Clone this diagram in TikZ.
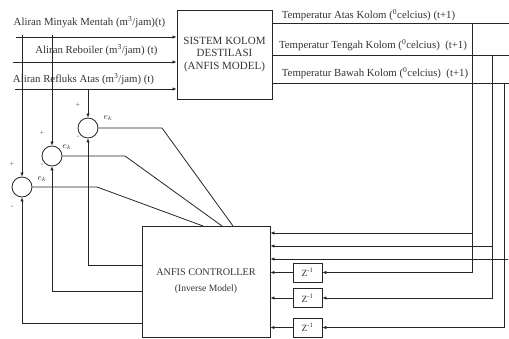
\documentclass[tikz,border=0pt]{standalone}
\usepackage{fontspec}
\setmainfont{Liberation Serif}
\usetikzlibrary{arrows.meta}
\begin{document}
\begin{tikzpicture}[x=1pt,y=-1pt,
 line/.style={line width=0.8pt, draw=black!85},
 arr/.style={line, -{Latex[length=4pt,width=3.5pt]}},
 lbl/.style={font=\fontsize{10.8}{12}\selectfont, inner sep=0pt, text=black!80},
 sgn/.style={font=\fontsize{8}{9}\selectfont, inner sep=0pt, text=black!60},
 ek/.style={font=\fontsize{9}{10}\selectfont, inner sep=0pt, text=black!80},
 sumc/.style={circle, draw=black!85, line width=0.8pt, minimum size=20pt, inner sep=0pt},
 blk/.style={draw=black!85, line width=0.9pt, inner sep=0pt, align=center, text=black!80},
 zbox/.style={draw=black!85, line width=0.8pt, minimum width=29pt, minimum height=19pt, inner sep=0pt, text=black!80, font=\fontsize{9.5}{11}\selectfont}
]
\useasboundingbox (0,0) rectangle (509,339);

% main blocks
\node[blk, minimum width=95pt, minimum height=89pt, font=\fontsize{11}{12.5}\selectfont] (sys) at (224.5,54.5) {SISTEM KOLOM\\DESTILASI\\(ANFIS MODEL)};
\node[blk, minimum width=128pt, minimum height=111pt, font=\fontsize{10.2}{16}\selectfont] (ctrl) at (206,281.5) {ANFIS CONTROLLER\\{\fontsize{9.6}{11}\selectfont(Inverse Model)}};

% summing junctions
\node[sumc] (c1) at (88,128) {};
\node[sumc] (c2) at (52,156) {};
\node[sumc] (c3) at (22,187) {};

% delay blocks
\node[zbox] (z1) at (307.5,272.5) {Z\textsuperscript{-1}};
\node[zbox] (z2) at (307.5,298) {Z\textsuperscript{-1}};
\node[zbox] (z3) at (307.5,327.5) {Z\textsuperscript{-1}};

% input lines
\coordinate (in1) at (16,37);
\coordinate (in2) at (13,62);
\coordinate (in3) at (15,89);
\draw[arr] (in1) -- (in1 -| sys.west);
\draw[arr] (in2) -- (in2 -| sys.west);
\draw[arr] (in3) -- (in3 -| sys.west);

\node[lbl] (l1) at (89.5,22) {Aliran Minyak Mentah (m\textsuperscript{3}/jam)(t)};
\node[lbl] (l2) at (96.5,50) {Aliran Reboiler (m\textsuperscript{3}/jam) (t)};
\node[lbl] (l3) at (83.5,79) {Aliran Refluks Atas (m\textsuperscript{3}/jam) (t)};

% taps to summing junctions
\coordinate (t3) at (22,35);
\coordinate (t2) at (52,35);
\draw[arr] (t3) -- (c3.north);
\draw[arr] (t2) -- (c2.north);
\draw[arr] (c1 |- in3) -- (c1.north);

% error outputs to controller
\coordinate (b1) at (162,128);
\coordinate (b2) at (125,156);
\coordinate (b3) at (97,187);
\coordinate (d1) at (233,226);
\coordinate (d2) at (222,226);
\coordinate (d3) at (203,226);
\draw[line] (c1.east) -- (b1) -- (d1);
\draw[line] (c2.east) -- (b2) -- (d2);
\draw[line] (c3.east) -- (b3) -- (d3);

% feedback from controller to junctions
\coordinate (f1) at (0,265);
\coordinate (f2) at (0,291);
\coordinate (f3) at (0,323);
\draw[arr] (ctrl.west |- f1) -- (c1 |- f1) -- (c1.south);
\draw[arr] (ctrl.west |- f2) -- (c2 |- f2) -- (c2.south);
\draw[arr] (ctrl.west |- f3) -- (c3 |- f3) -- (c3.south);

% signs and e_k labels
\node[sgn] (p1) at (78,105) {+};
\node[sgn] (m1) at (78,137) {-};
\node[ek] (e1) at (108,118) {$e_k$};
\node[sgn] (p2) at (42,133) {+};
\node[sgn] (m2) at (42,165) {-};
\node[ek] (e2) at (67,147) {$e_k$};
\node[sgn] (p3) at (12,164) {+};
\node[sgn] (m3) at (12,207) {-};
\node[ek] (e3) at (42,179) {$e_k$};

% output lines
\coordinate (o1) at (509,23);
\coordinate (o2) at (509,55);
\coordinate (o3) at (509,83);
\draw[line] (sys.east |- o1) -- (o1);
\draw[line] (sys.east |- o2) -- (o2);
\draw[line] (sys.east |- o3) -- (o3);

\node[lbl] (r1) at (368.5,15) {Temperatur Atas Kolom (\textsuperscript{0}celcius) (t+1)};
\node[lbl] (r2) at (373,45) {Temperatur Tengah Kolom (\textsuperscript{0}celcius)\ \ (t+1)};
\node[lbl] (r3) at (375,73) {Temperatur Bawah Kolom (\textsuperscript{0}celcius)\ \ (t+1)};

% vertical feedback buses
\coordinate (v1) at (472,23);
\coordinate (v2) at (492,55);
\coordinate (v3) at (504,83);
\coordinate (h1) at (472,233);
\coordinate (h2) at (492,246);
\coordinate (h3) at (508,259);
\draw[arr] (v1) |- (z1.east);
\draw[arr] (v2) |- (z2.east);
\draw[arr] (v3) |- (z3.east);
\draw[arr] (h1) -- (ctrl.east |- h1);
\draw[arr] (h2) -- (ctrl.east |- h2);
\draw[arr] (h3) -- (ctrl.east |- h3);
\draw[arr] (z1.west) -- (ctrl.east |- z1.west);
\draw[arr] (z2.west) -- (ctrl.east |- z2.west);
\draw[arr] (z3.west) -- (ctrl.east |- z3.west);
\end{tikzpicture}
\end{document}
